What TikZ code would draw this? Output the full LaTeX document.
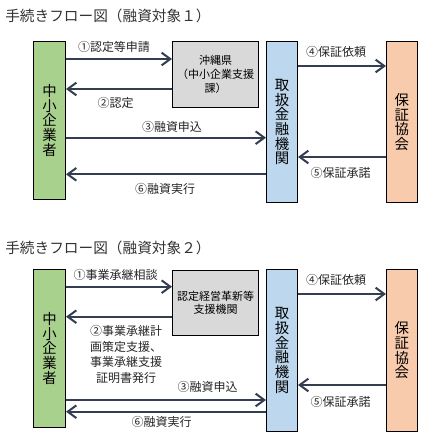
\documentclass[tikz,border=0pt]{standalone}
\usepackage{fontspec}
\setmainfont{Noto Sans CJK JP}
\usetikzlibrary{arrows.meta}
\definecolor{cgreen}{HTML}{A9D18E}
\definecolor{cgray}{HTML}{D9D9D9}
\definecolor{cblue}{HTML}{BDD7EE}
\definecolor{corange}{HTML}{F8CBAD}
\definecolor{arrowc}{HTML}{333F50}
\begin{document}
\begin{tikzpicture}[x=0.75pt,y=-0.75pt,
  box/.style={draw=black, line width=0.75pt, inner sep=0pt, anchor=north west, align=center},
  vtext/.style={font=\fontsize{10.8pt}{11pt}\selectfont},
  gtext/.style={font=\fontsize{8.25pt}{10.2pt}\selectfont},
  lbl/.style={font=\fontsize{9pt}{11.6pt}\selectfont, inner sep=0pt, text=black!85, align=center},
  ttl/.style={font=\fontsize{11pt}{12pt}\selectfont, anchor=west, inner sep=0pt, text=black!80},
  arr/.style={draw=arrowc, line width=1.5pt, -{Straight Barb[length=6.5pt,width=9.5pt]}}]
\useasboundingbox (0,0) rectangle (447,444);

% ---------- diagram 1 ----------
\node[ttl] (t1) at (5,16) {手続きフロー図（融資対象１）};
\node[box, fill=cgreen, minimum width=24pt, minimum height=118.5pt, vtext] (L1) at (33,41) {中\\小\\企\\業\\者};
\node[box, fill=cgray, minimum width=64.5pt, minimum height=49.5pt, gtext] (G1) at (172,41) {沖縄県\\（中小企業支援\\課）};
\node[box, fill=cblue, minimum width=23.25pt, minimum height=120.75pt, vtext] (B1) at (266,41) {取\\扱\\金\\融\\機\\関};
\node[box, fill=corange, minimum width=22.9pt, minimum height=120.75pt, vtext] (O1) at (386,41) {保\\証\\協\\会};

\draw[arr] (L1.east |- 0,59) -- (G1.west |- 0,59);
\draw[arr] (G1.west |- 0,89) -- (L1.east |- 0,89);
\draw[arr] (L1.east |- 0,137.7) -- (B1.west |- 0,137.7);
\draw[arr] (B1.west |- 0,174.3) -- (L1.east |- 0,174.3);
\draw[arr] (B1.east |- 0,66) -- (O1.west |- 0,66);
\draw[arr] (O1.west |- 0,157) -- (B1.east |- 0,157);

\node[lbl] (a1) at (114,47) {①認定等申請};
\node[lbl] (a2) at (115.5,103) {②認定};
\node[lbl] (a3) at (172,127) {③融資申込};
\node[lbl] (a6) at (165,189) {⑥融資実行};
\node[lbl] (a4) at (336,52) {④保証依頼};
\node[lbl] (a5) at (340.5,173) {⑤保証承諾};

% ---------- diagram 2 ----------
\node[ttl] (t2) at (5,248) {手続きフロー図（融資対象２）};
\node[box, fill=cgreen, minimum width=24pt, minimum height=118.5pt, vtext] (L2) at (33,269) {中\\小\\企\\業\\者};
\node[box, fill=cgray, minimum width=64.5pt, minimum height=48.75pt, gtext] (G2) at (172,270) {認定経営革新等\\支援機関};
\node[box, fill=cblue, minimum width=23.25pt, minimum height=121.5pt, vtext] (B2) at (266,269) {取\\扱\\金\\融\\機\\関};
\node[box, fill=corange, minimum width=22.9pt, minimum height=121.5pt, vtext] (O2) at (386,269) {保\\証\\協\\会};

\draw[arr] (L2.east |- 0,286.7) -- (G2.west |- 0,286.7);
\draw[arr] (G2.west |- 0,316.7) -- (L2.east |- 0,316.7);
\draw[arr] (L2.east |- 0,400) -- (B2.west |- 0,400);
\draw[arr] (B2.west |- 0,411.7) -- (L2.east |- 0,411.7);
\draw[arr] (B2.east |- 0,294) -- (O2.west |- 0,294);
\draw[arr] (O2.west |- 0,385) -- (B2.east |- 0,385);

\node[lbl] (b1) at (115.5,275) {①事業承継相談};
\node[lbl] (b2) at (126,354.3) {②事業承継計\\画策定支援、\\事業承継支援\\証明書発行};
\node[lbl] (b3) at (207.5,387) {③融資申込};
\node[lbl] (b6) at (161.7,422) {⑥融資実行};
\node[lbl] (b4) at (336,280) {④保証依頼};
\node[lbl] (b5) at (340.5,402) {⑤保証承諾};
\end{tikzpicture}
\end{document}
